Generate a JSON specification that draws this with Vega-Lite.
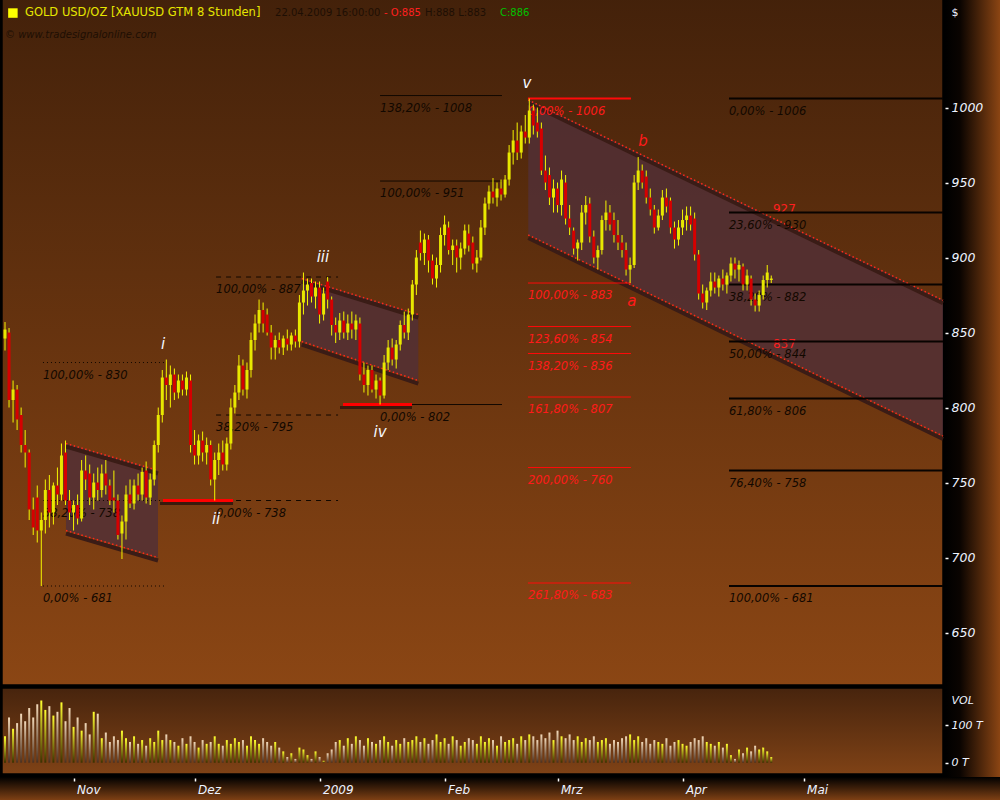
{
"$schema": "https://vega.github.io/schema/vega-lite/v6.json",
"width": 1000, "height": 800,
"autosize": {"type": "none"},
"padding": 0,
"background": "#6a3410",
"view": {"stroke": null, "fill": {"gradient": "linear", "x1": 0, "y1": 0, "x2": 1, "y2": 0, "stops": [{"offset": 0, "color": "#000000"}, {"offset": 0.945, "color": "#000000"}, {"offset": 0.96, "color": "#0a0401"}, {"offset": 1, "color": "#8b4513"}]}},
"config": {"view": {"stroke": null}},
"datasets": {
"bars": [
{"d":"2008-10-15","o":846,"h":857,"l":838,"c":852,"v":70},
{"d":"2008-10-16","o":850,"h":853,"l":800,"c":805,"v":120},
{"d":"2008-10-17","o":805,"h":818,"l":790,"c":812,"v":90},
{"d":"2008-10-18","o":812,"h":815,"l":785,"c":792,"v":105},
{"d":"2008-10-19","o":795,"h":800,"l":770,"c":775,"v":130},
{"d":"2008-10-20","o":775,"h":785,"l":760,"c":770,"v":110},
{"d":"2008-10-21","o":770,"h":772,"l":725,"c":732,"v":145},
{"d":"2008-10-22","o":732,"h":740,"l":715,"c":720,"v":120},
{"d":"2008-10-23","o":740,"h":748,"l":710,"c":718,"v":155},
{"d":"2008-10-24","o":718,"h":730,"l":681,"c":725,"v":165},
{"d":"2008-10-25","o":725,"h":752,"l":716,"c":745,"v":140},
{"d":"2008-10-26","o":745,"h":755,"l":720,"c":730,"v":150},
{"d":"2008-10-27","o":730,"h":750,"l":722,"c":748,"v":125},
{"d":"2008-10-28","o":748,"h":760,"l":735,"c":742,"v":135},
{"d":"2008-10-29","o":742,"h":776,"l":738,"c":768,"v":160},
{"d":"2008-10-30","o":770,"h":778,"l":735,"c":738,"v":110},
{"d":"2008-10-31","o":738,"h":745,"l":725,"c":730,"v":145},
{"d":"2008-11-01","o":730,"h":738,"l":718,"c":735,"v":95},
{"d":"2008-11-02","o":735,"h":742,"l":722,"c":726,"v":120},
{"d":"2008-11-03","o":726,"h":765,"l":724,"c":758,"v":85},
{"d":"2008-11-04","o":758,"h":768,"l":745,"c":752,"v":105},
{"d":"2008-11-05","o":756,"h":762,"l":735,"c":740,"v":75},
{"d":"2008-11-06","o":740,"h":756,"l":732,"c":750,"v":135},
{"d":"2008-11-07","o":750,"h":760,"l":738,"c":745,"v":130},
{"d":"2008-11-08","o":745,"h":762,"l":740,"c":756,"v":65},
{"d":"2008-11-09","o":756,"h":765,"l":742,"c":748,"v":80},
{"d":"2008-11-10","o":748,"h":752,"l":735,"c":738,"v":55},
{"d":"2008-11-11","o":740,"h":758,"l":730,"c":738,"v":70},
{"d":"2008-11-12","o":738,"h":742,"l":712,"c":715,"v":60},
{"d":"2008-11-13","o":716,"h":728,"l":699,"c":724,"v":85},
{"d":"2008-11-14","o":724,"h":748,"l":712,"c":742,"v":65},
{"d":"2008-11-15","o":742,"h":752,"l":733,"c":736,"v":55},
{"d":"2008-11-16","o":736,"h":752,"l":732,"c":748,"v":70},
{"d":"2008-11-17","o":748,"h":756,"l":738,"c":742,"v":50},
{"d":"2008-11-18","o":742,"h":760,"l":738,"c":757,"v":60},
{"d":"2008-11-19","o":758,"h":764,"l":736,"c":740,"v":45},
{"d":"2008-11-20","o":740,"h":756,"l":735,"c":752,"v":65},
{"d":"2008-11-21","o":752,"h":778,"l":748,"c":775,"v":55},
{"d":"2008-11-22","o":775,"h":800,"l":770,"c":795,"v":85},
{"d":"2008-11-23","o":795,"h":825,"l":790,"c":820,"v":60},
{"d":"2008-11-24","o":820,"h":832,"l":805,"c":815,"v":75},
{"d":"2008-11-25","o":815,"h":828,"l":800,"c":822,"v":60},
{"d":"2008-11-26","o":822,"h":826,"l":805,"c":810,"v":55},
{"d":"2008-11-27","o":810,"h":822,"l":806,"c":818,"v":45},
{"d":"2008-11-28","o":818,"h":822,"l":808,"c":812,"v":65},
{"d":"2008-11-29","o":812,"h":824,"l":808,"c":820,"v":50},
{"d":"2008-11-30","o":818,"h":822,"l":770,"c":775,"v":70},
{"d":"2008-12-01","o":775,"h":785,"l":762,"c":768,"v":55},
{"d":"2008-12-02","o":768,"h":782,"l":762,"c":778,"v":40},
{"d":"2008-12-03","o":778,"h":784,"l":764,"c":770,"v":60},
{"d":"2008-12-04","o":770,"h":780,"l":762,"c":775,"v":50},
{"d":"2008-12-05","o":775,"h":778,"l":748,"c":752,"v":55},
{"d":"2008-12-06","o":752,"h":770,"l":738,"c":765,"v":70},
{"d":"2008-12-07","o":765,"h":776,"l":755,"c":770,"v":50},
{"d":"2008-12-08","o":770,"h":778,"l":758,"c":762,"v":45},
{"d":"2008-12-09","o":762,"h":780,"l":758,"c":776,"v":60},
{"d":"2008-12-10","o":776,"h":806,"l":772,"c":800,"v":50},
{"d":"2008-12-11","o":800,"h":815,"l":796,"c":810,"v":65},
{"d":"2008-12-12","o":810,"h":835,"l":805,"c":828,"v":55},
{"d":"2008-12-13","o":828,"h":832,"l":808,"c":812,"v":60},
{"d":"2008-12-14","o":812,"h":830,"l":806,"c":825,"v":45},
{"d":"2008-12-15","o":825,"h":850,"l":820,"c":845,"v":70},
{"d":"2008-12-16","o":845,"h":862,"l":838,"c":856,"v":60},
{"d":"2008-12-17","o":856,"h":872,"l":850,"c":865,"v":50},
{"d":"2008-12-18","o":865,"h":870,"l":850,"c":856,"v":65},
{"d":"2008-12-19","o":862,"h":866,"l":848,"c":850,"v":55},
{"d":"2008-12-20","o":850,"h":855,"l":832,"c":840,"v":45},
{"d":"2008-12-21","o":840,"h":848,"l":832,"c":845,"v":55},
{"d":"2008-12-22","o":845,"h":850,"l":836,"c":840,"v":40},
{"d":"2008-12-23","o":840,"h":848,"l":835,"c":846,"v":30},
{"d":"2008-12-24","o":846,"h":852,"l":838,"c":842,"v":15},
{"d":"2008-12-25","o":842,"h":850,"l":838,"c":848,"v":25},
{"d":"2008-12-26","o":848,"h":852,"l":840,"c":844,"v":10},
{"d":"2008-12-27","o":844,"h":875,"l":840,"c":870,"v":40},
{"d":"2008-12-28","o":870,"h":890,"l":862,"c":878,"v":35},
{"d":"2008-12-29","o":878,"h":886,"l":868,"c":882,"v":20},
{"d":"2008-12-30","o":883,"h":886,"l":870,"c":874,"v":10},
{"d":"2008-12-31","o":874,"h":884,"l":866,"c":880,"v":30},
{"d":"2009-01-01","o":880,"h":884,"l":856,"c":862,"v":15},
{"d":"2009-01-02","o":862,"h":880,"l":858,"c":876,"v":5},
{"d":"2009-01-03","o":884,"h":887,"l":866,"c":872,"v":25},
{"d":"2009-01-04","o":872,"h":874,"l":848,"c":855,"v":35},
{"d":"2009-01-05","o":855,"h":860,"l":843,"c":850,"v":55},
{"d":"2009-01-06","o":850,"h":863,"l":845,"c":858,"v":60},
{"d":"2009-01-07","o":858,"h":864,"l":846,"c":850,"v":45},
{"d":"2009-01-08","o":850,"h":862,"l":845,"c":856,"v":65},
{"d":"2009-01-09","o":856,"h":864,"l":846,"c":852,"v":50},
{"d":"2009-01-10","o":852,"h":862,"l":845,"c":858,"v":70},
{"d":"2009-01-11","o":856,"h":860,"l":818,"c":822,"v":60},
{"d":"2009-01-12","o":822,"h":830,"l":810,"c":815,"v":45},
{"d":"2009-01-13","o":815,"h":828,"l":808,"c":825,"v":65},
{"d":"2009-01-14","o":825,"h":828,"l":810,"c":812,"v":55},
{"d":"2009-01-15","o":812,"h":822,"l":806,"c":818,"v":50},
{"d":"2009-01-16","o":818,"h":820,"l":802,"c":808,"v":60},
{"d":"2009-01-17","o":808,"h":835,"l":806,"c":830,"v":70},
{"d":"2009-01-18","o":830,"h":845,"l":825,"c":840,"v":55},
{"d":"2009-01-19","o":840,"h":846,"l":828,"c":832,"v":45},
{"d":"2009-01-20","o":832,"h":845,"l":826,"c":842,"v":60},
{"d":"2009-01-21","o":842,"h":858,"l":838,"c":855,"v":50},
{"d":"2009-01-22","o":855,"h":864,"l":846,"c":850,"v":65},
{"d":"2009-01-23","o":850,"h":866,"l":845,"c":862,"v":55},
{"d":"2009-01-24","o":862,"h":885,"l":858,"c":882,"v":60},
{"d":"2009-01-25","o":882,"h":905,"l":875,"c":900,"v":70},
{"d":"2009-01-26","o":910,"h":918,"l":898,"c":903,"v":55},
{"d":"2009-01-27","o":903,"h":916,"l":895,"c":912,"v":65},
{"d":"2009-01-28","o":912,"h":915,"l":890,"c":898,"v":50},
{"d":"2009-01-29","o":898,"h":902,"l":882,"c":886,"v":60},
{"d":"2009-01-30","o":886,"h":900,"l":880,"c":895,"v":75},
{"d":"2009-01-31","o":895,"h":920,"l":890,"c":915,"v":55},
{"d":"2009-02-01","o":915,"h":928,"l":908,"c":922,"v":65},
{"d":"2009-02-02","o":920,"h":924,"l":902,"c":905,"v":50},
{"d":"2009-02-03","o":905,"h":912,"l":895,"c":908,"v":70},
{"d":"2009-02-04","o":908,"h":912,"l":890,"c":900,"v":60},
{"d":"2009-02-05","o":900,"h":910,"l":892,"c":906,"v":45},
{"d":"2009-02-06","o":906,"h":922,"l":902,"c":918,"v":55},
{"d":"2009-02-07","o":916,"h":922,"l":904,"c":908,"v":65},
{"d":"2009-02-08","o":910,"h":914,"l":892,"c":896,"v":60},
{"d":"2009-02-09","o":896,"h":905,"l":890,"c":900,"v":50},
{"d":"2009-02-10","o":900,"h":925,"l":898,"c":920,"v":70},
{"d":"2009-02-11","o":920,"h":940,"l":915,"c":936,"v":55},
{"d":"2009-02-12","o":936,"h":948,"l":932,"c":944,"v":65},
{"d":"2009-02-13","o":944,"h":953,"l":936,"c":940,"v":60},
{"d":"2009-02-14","o":940,"h":950,"l":934,"c":946,"v":45},
{"d":"2009-02-15","o":946,"h":952,"l":938,"c":942,"v":70},
{"d":"2009-02-16","o":942,"h":955,"l":940,"c":952,"v":55},
{"d":"2009-02-17","o":952,"h":975,"l":948,"c":970,"v":60},
{"d":"2009-02-18","o":970,"h":985,"l":962,"c":978,"v":65},
{"d":"2009-02-19","o":978,"h":990,"l":965,"c":970,"v":50},
{"d":"2009-02-20","o":970,"h":988,"l":966,"c":984,"v":70},
{"d":"2009-02-21","o":984,"h":995,"l":976,"c":980,"v":60},
{"d":"2009-02-22","o":980,"h":1006,"l":976,"c":998,"v":75},
{"d":"2009-02-23","o":998,"h":1002,"l":982,"c":988,"v":70},
{"d":"2009-02-24","o":990,"h":1000,"l":980,"c":984,"v":60},
{"d":"2009-02-25","o":986,"h":990,"l":955,"c":958,"v":75},
{"d":"2009-02-26","o":958,"h":968,"l":945,"c":950,"v":65},
{"d":"2009-02-27","o":955,"h":960,"l":935,"c":940,"v":80},
{"d":"2009-02-28","o":940,"h":952,"l":930,"c":946,"v":60},
{"d":"2009-03-01","o":946,"h":950,"l":930,"c":935,"v":85},
{"d":"2009-03-02","o":935,"h":958,"l":928,"c":952,"v":70},
{"d":"2009-03-03","o":950,"h":955,"l":922,"c":926,"v":65},
{"d":"2009-03-04","o":926,"h":935,"l":915,"c":920,"v":75},
{"d":"2009-03-05","o":918,"h":920,"l":902,"c":906,"v":60},
{"d":"2009-03-06","o":906,"h":912,"l":898,"c":910,"v":70},
{"d":"2009-03-07","o":910,"h":935,"l":905,"c":930,"v":55},
{"d":"2009-03-08","o":930,"h":941,"l":922,"c":935,"v":65},
{"d":"2009-03-09","o":936,"h":940,"l":910,"c":914,"v":60},
{"d":"2009-03-10","o":914,"h":918,"l":896,"c":900,"v":70},
{"d":"2009-03-11","o":900,"h":908,"l":892,"c":905,"v":55},
{"d":"2009-03-12","o":905,"h":928,"l":902,"c":925,"v":60},
{"d":"2009-03-13","o":925,"h":938,"l":918,"c":930,"v":65},
{"d":"2009-03-14","o":930,"h":935,"l":918,"c":922,"v":50},
{"d":"2009-03-15","o":925,"h":930,"l":910,"c":915,"v":60},
{"d":"2009-03-16","o":915,"h":925,"l":905,"c":910,"v":55},
{"d":"2009-03-17","o":910,"h":915,"l":900,"c":905,"v":65},
{"d":"2009-03-18","o":905,"h":910,"l":888,"c":892,"v":70},
{"d":"2009-03-19","o":892,"h":900,"l":883,"c":895,"v":75},
{"d":"2009-03-20","o":895,"h":955,"l":893,"c":950,"v":60},
{"d":"2009-03-21","o":950,"h":967,"l":945,"c":958,"v":70},
{"d":"2009-03-22","o":958,"h":962,"l":946,"c":950,"v":55},
{"d":"2009-03-23","o":954,"h":958,"l":936,"c":940,"v":65},
{"d":"2009-03-24","o":940,"h":946,"l":928,"c":932,"v":50},
{"d":"2009-03-25","o":932,"h":935,"l":916,"c":920,"v":60},
{"d":"2009-03-26","o":920,"h":932,"l":918,"c":928,"v":55},
{"d":"2009-03-27","o":928,"h":945,"l":925,"c":940,"v":50},
{"d":"2009-03-28","o":940,"h":946,"l":930,"c":934,"v":65},
{"d":"2009-03-29","o":938,"h":940,"l":916,"c":920,"v":45},
{"d":"2009-03-30","o":920,"h":924,"l":906,"c":912,"v":55},
{"d":"2009-03-31","o":912,"h":925,"l":908,"c":920,"v":60},
{"d":"2009-04-01","o":920,"h":932,"l":915,"c":925,"v":50},
{"d":"2009-04-02","o":925,"h":934,"l":918,"c":928,"v":45},
{"d":"2009-04-03","o":928,"h":934,"l":918,"c":922,"v":55},
{"d":"2009-04-04","o":926,"h":930,"l":898,"c":902,"v":65},
{"d":"2009-04-05","o":902,"h":905,"l":872,"c":876,"v":60},
{"d":"2009-04-06","o":876,"h":882,"l":866,"c":870,"v":70},
{"d":"2009-04-07","o":870,"h":880,"l":865,"c":878,"v":55},
{"d":"2009-04-08","o":878,"h":890,"l":874,"c":884,"v":50},
{"d":"2009-04-09","o":884,"h":890,"l":876,"c":880,"v":45},
{"d":"2009-04-10","o":880,"h":888,"l":874,"c":886,"v":55},
{"d":"2009-04-11","o":886,"h":892,"l":878,"c":882,"v":40},
{"d":"2009-04-12","o":882,"h":890,"l":876,"c":888,"v":50},
{"d":"2009-04-13","o":888,"h":900,"l":884,"c":896,"v":20},
{"d":"2009-04-14","o":896,"h":900,"l":886,"c":892,"v":10},
{"d":"2009-04-15","o":892,"h":898,"l":884,"c":895,"v":35},
{"d":"2009-04-16","o":894,"h":896,"l":878,"c":882,"v":25},
{"d":"2009-04-17","o":882,"h":892,"l":878,"c":888,"v":40},
{"d":"2009-04-18","o":886,"h":888,"l":868,"c":872,"v":30},
{"d":"2009-04-19","o":872,"h":876,"l":864,"c":868,"v":45},
{"d":"2009-04-20","o":868,"h":878,"l":864,"c":875,"v":35},
{"d":"2009-04-21","o":875,"h":888,"l":872,"c":885,"v":40},
{"d":"2009-04-22","o":885,"h":895,"l":880,"c":890,"v":30},
{"d":"2009-04-23","o":885,"h":888,"l":883,"c":886,"v":15}
],
"fibs": [
{"set":"A","label":"100,00% - 830","price":830,"start":"2008-10-24T10:00:00Z","end":"2008-11-23T16:00:00Z"},
{"set":"A","label":"38,20% - 738","price":738,"start":"2008-10-24T10:00:00Z","end":"2008-11-23T16:00:00Z"},
{"set":"A","label":"0,00% - 681","price":681,"start":"2008-10-24T10:00:00Z","end":"2008-11-23T16:00:00Z"},
{"set":"B","label":"100,00% - 887","price":887,"start":"2008-12-06T08:00:00Z","end":"2009-01-05T14:00:00Z"},
{"set":"B","label":"38,20% - 795","price":795,"start":"2008-12-06T08:00:00Z","end":"2009-01-05T14:00:00Z"},
{"set":"B","label":"0,00% - 738","price":738,"start":"2008-12-06T08:00:00Z","end":"2009-01-05T14:00:00Z"},
{"set":"C","label":"138,20% - 1008","price":1008,"start":"2009-01-16T00:00:00Z","end":"2009-02-15T05:30:00Z"},
{"set":"C","label":"100,00% - 951","price":951,"start":"2009-01-16T00:00:00Z","end":"2009-02-15T05:30:00Z"},
{"set":"C","label":"0,00% - 802","price":802,"start":"2009-01-16T00:00:00Z","end":"2009-02-15T05:30:00Z"},
{"set":"D","label":"0,00% - 1006","price":1006,"start":"2009-02-21T16:00:00Z","end":"2009-03-19T05:00:00Z"},
{"set":"D","label":"100,00% - 883","price":883,"start":"2009-02-21T16:00:00Z","end":"2009-03-19T05:00:00Z"},
{"set":"D","label":"123,60% - 854","price":854,"start":"2009-02-21T16:00:00Z","end":"2009-03-19T05:00:00Z"},
{"set":"D","label":"138,20% - 836","price":836,"start":"2009-02-21T16:00:00Z","end":"2009-03-19T05:00:00Z"},
{"set":"D","label":"161,80% - 807","price":807,"start":"2009-02-21T16:00:00Z","end":"2009-03-19T05:00:00Z"},
{"set":"D","label":"200,00% - 760","price":760,"start":"2009-02-21T16:00:00Z","end":"2009-03-19T05:00:00Z"},
{"set":"D","label":"261,80% - 683","price":683,"start":"2009-02-21T16:00:00Z","end":"2009-03-19T05:00:00Z"},
{"set":"E","label":"0,00% - 1006","price":1006,"start":"2009-04-12T12:30:00Z","end":"2009-06-04T14:00:00Z"},
{"set":"E","label":"23,60% - 930","price":930,"start":"2009-04-12T12:30:00Z","end":"2009-06-04T14:00:00Z"},
{"set":"E","label":"38,20% - 882","price":882,"start":"2009-04-12T12:30:00Z","end":"2009-06-04T14:00:00Z"},
{"set":"E","label":"50,00% - 844","price":844,"start":"2009-04-12T12:30:00Z","end":"2009-06-04T14:00:00Z"},
{"set":"E","label":"61,80% - 806","price":806,"start":"2009-04-12T12:30:00Z","end":"2009-06-04T14:00:00Z"},
{"set":"E","label":"76,40% - 758","price":758,"start":"2009-04-12T12:30:00Z","end":"2009-06-04T14:00:00Z"},
{"set":"E","label":"100,00% - 681","price":681,"start":"2009-04-12T12:30:00Z","end":"2009-06-04T14:00:00Z"}
],
"channels": [
{"ch":"c1","date":"2008-10-30T03:00:00Z","top":776,"bottom":718},
{"ch":"c1","date":"2008-11-21T22:30:00Z","top":758,"bottom":700},
{"ch":"c2","date":"2008-12-27T13:40:00Z","top":886,"bottom":844},
{"ch":"c2","date":"2009-01-25T11:30:00Z","top":862,"bottom":818},
{"ch":"c3","date":"2009-02-21T18:00:00Z","top":1005,"bottom":915},
{"ch":"c3","date":"2009-06-04T14:00:00Z","top":871.5,"bottom":781}
],
"channelValues": [
{"date":"2009-04-23T10:00:00Z","value":927},
{"date":"2009-04-23T10:00:00Z","value":837}
],
"supports": [
{"start":"2008-11-23T04:00:00Z","end":"2008-12-10T13:00:00Z","price":738},
{"start":"2009-01-06T19:30:00Z","end":"2009-01-23T22:00:00Z","price":802}
],
"waves": [
{"wave":"i","turn":"peak","date":"2008-11-23T04:00:00Z","price":832},
{"wave":"ii","turn":"trough","date":"2008-12-06T08:00:00Z","price":738},
{"wave":"iii","turn":"peak","date":"2009-01-01T20:00:00Z","price":890},
{"wave":"iv","turn":"trough","date":"2009-01-15T23:30:00Z","price":796},
{"wave":"v","turn":"peak","date":"2009-02-21T10:00:00Z","price":1006},
{"wave":"a","turn":"trough","date":"2009-03-19T11:00:00Z","price":883},
{"wave":"b","turn":"peak","date":"2009-03-22T05:00:00Z","price":967}
]
},
"layer": [
{
"layer": [
{"data": {"values": [{}]},
 "mark": {"type": "rect", "fill": {"gradient": "linear", "x1": 0, "y1": 0, "x2": 0, "y2": 1, "stops": [{"offset": 0, "color": "#000000"}, {"offset": 1, "color": "#7e4014"}]}},
 "encoding": {
  "x": {"datum": {"year": 2008, "month": 10, "date": 10, "utc": true}, "type": "temporal",
        "scale": {"type": "utc", "domain": [{"year": 2008, "month": 10, "date": 15, "utc": true}, {"year": 2009, "month": 6, "date": 4, "hours": 14, "utc": true}], "range": [5, 943], "nice": false, "padding": 0},
        "axis": {"orient": "bottom", "offset": -22, "zindex": 2, "domain": false, "grid": false, "title": null, "titleOpacity": 0,
                 "values": [{"year": 2008, "month": 11, "date": 1, "utc": true}, {"year": 2008, "month": 12, "date": 1, "utc": true}, {"year": 2009, "month": 1, "date": 1, "utc": true}, {"year": 2009, "month": 2, "date": 1, "utc": true}, {"year": 2009, "month": 3, "date": 1, "utc": true}, {"year": 2009, "month": 4, "date": 1, "utc": true}, {"year": 2009, "month": 5, "date": 1, "utc": true}],
                 "labelExpr": "utcmonth(datum.value) == 0 ? '' + utcyear(datum.value) : ['Jan','Feb','Mrz','Apr','Mai','Jun','Jul','Aug','Sep','Okt','Nov','Dez'][utcmonth(datum.value)]",
                 "tickSize": 3, "tickColor": "#ffffff", "tickWidth": 1.5, "labelColor": "#eef3ff", "labelFont": "DejaVu Sans", "labelFontSize": 12, "labelFontStyle": "italic", "labelAlign": "left", "labelOffset": 3, "labelPadding": 3, "labelFlush": false, "labelOverlap": false}},
  "x2": {"datum": {"year": 2009, "month": 6, "date": 18, "hours": 17, "minutes": 15, "utc": true}},
  "y": {"datum": 553.7, "type": "quantitative", "scale": {"domain": [615, 1071.7], "range": [685, 0], "nice": false, "zero": false, "padding": 0},
        "axis": {"orient": "right", "offset": -55, "zindex": 2, "values": [650, 700, 750, 800, 850, 900, 950, 1000], "format": "d", "domain": false, "grid": false,
                 "tickSize": 3, "tickColor": "#ffffff", "tickWidth": 1.5, "labelColor": "#eef3ff", "labelFont": "DejaVu Sans", "labelFontSize": 12.5, "labelFontStyle": "italic", "labelPadding": 3, "labelFlush": false, "labelOverlap": false,
                 "title": "$", "titleAngle": 0, "titleX": 6, "titleY": 12, "titleColor": "#eef3ff", "titleFont": "DejaVu Sans", "titleFontSize": 11, "titleFontWeight": "normal", "titleAlign": "left", "titleBaseline": "middle"}},
  "y2": {"datum": 538.3}
 }},
{"data": {"values": [{}]},
 "mark": {"type": "rect", "stroke": "#000000", "strokeWidth": 1.5, "fill": {"gradient": "linear", "x1": 0, "y1": 0, "x2": 0, "y2": 1, "stops": [{"offset": 0, "color": "#43210a"}, {"offset": 1, "color": "#8b4614"}]}},
 "encoding": {
  "x": {"datum": {"year": 2008, "month": 10, "date": 14, "hours": 6, "utc": true}, "type": "temporal"},
  "x2": {"datum": {"year": 2009, "month": 6, "date": 4, "hours": 14, "utc": true}},
  "y": {"datum": 1075, "type": "quantitative"},
  "y2": {"datum": 615}
 }},
{"data": {"name": "channels"},
 "mark": {"type": "area", "color": "#523037", "opacity": 0.82},
 "encoding": {
  "x": {"field": "date", "type": "temporal"},
  "y": {"field": "top", "type": "quantitative"},
  "y2": {"field": "bottom"},
  "detail": {"field": "ch"}
 }},
{"data": {"name": "channels"},
 "mark": {"type": "line", "color": "#3a1c16", "strokeWidth": 4, "yOffset": 3},
 "encoding": {"x": {"field": "date", "type": "temporal"}, "y": {"field": "top", "type": "quantitative"}, "detail": {"field": "ch"}}},
{"data": {"name": "channels"},
 "mark": {"type": "line", "color": "#3a1c16", "strokeWidth": 4, "yOffset": 3},
 "encoding": {"x": {"field": "date", "type": "temporal"}, "y": {"field": "bottom", "type": "quantitative"}, "detail": {"field": "ch"}}},
{"data": {"name": "channels"},
 "mark": {"type": "line", "color": "#ff2a1a", "strokeWidth": 1.5, "strokeDash": [1.5, 2.5]},
 "encoding": {"x": {"field": "date", "type": "temporal"}, "y": {"field": "top", "type": "quantitative"}, "detail": {"field": "ch"}}},
{"data": {"name": "channels"},
 "mark": {"type": "line", "color": "#ff2a1a", "strokeWidth": 1.5, "strokeDash": [1.5, 2.5]},
 "encoding": {"x": {"field": "date", "type": "temporal"}, "y": {"field": "bottom", "type": "quantitative"}, "detail": {"field": "ch"}}},
{"data": {"name": "channelValues"},
 "mark": {"type": "text", "color": "#ff2020", "align": "left", "baseline": "bottom", "dy": -1, "font": "DejaVu Sans", "fontSize": 12},
 "encoding": {"x": {"field": "date", "type": "temporal"}, "y": {"field": "value", "type": "quantitative"}, "text": {"field": "value", "type": "quantitative"}}},
{"data": {"name": "fibs"}, "transform": [{"filter": "datum.set === 'A'"}],
 "mark": {"type": "rule", "color": "#120800", "strokeWidth": 1, "strokeDash": [1, 3]},
 "encoding": {"x": {"field": "start", "type": "temporal"}, "x2": {"field": "end"}, "y": {"field": "price", "type": "quantitative"}}},
{"data": {"name": "fibs"}, "transform": [{"filter": "datum.set === 'B'"}],
 "mark": {"type": "rule", "color": "#120800", "strokeWidth": 1, "strokeDash": [5, 5]},
 "encoding": {"x": {"field": "start", "type": "temporal"}, "x2": {"field": "end"}, "y": {"field": "price", "type": "quantitative"}}},
{"data": {"name": "fibs"}, "transform": [{"filter": "datum.set === 'C'"}],
 "mark": {"type": "rule", "color": "#120800", "strokeWidth": 1},
 "encoding": {"x": {"field": "start", "type": "temporal"}, "x2": {"field": "end"}, "y": {"field": "price", "type": "quantitative"}}},
{"data": {"name": "fibs"}, "transform": [{"filter": "datum.set === 'D' && datum.price < 1000"}],
 "mark": {"type": "rule", "color": "#ff0a0a", "strokeWidth": 1},
 "encoding": {"x": {"field": "start", "type": "temporal"}, "x2": {"field": "end"}, "y": {"field": "price", "type": "quantitative"}}},
{"data": {"name": "fibs"}, "transform": [{"filter": "datum.set === 'D' && datum.price >= 1000"}],
 "mark": {"type": "rule", "color": "#ff0a0a", "strokeWidth": 2},
 "encoding": {"x": {"field": "start", "type": "temporal"}, "x2": {"field": "end"}, "y": {"field": "price", "type": "quantitative"}}},
{"data": {"name": "fibs"}, "transform": [{"filter": "datum.set === 'E'"}],
 "mark": {"type": "rule", "color": "#080300", "strokeWidth": 2},
 "encoding": {"x": {"field": "start", "type": "temporal"}, "x2": {"field": "end"}, "y": {"field": "price", "type": "quantitative"}}},
{"data": {"name": "supports"},
 "mark": {"type": "rule", "color": "#3a1a0c", "strokeWidth": 3, "xOffset": -3, "yOffset": 3},
 "encoding": {"x": {"field": "start", "type": "temporal"}, "x2": {"field": "end"}, "y": {"field": "price", "type": "quantitative"}}},
{"data": {"name": "supports"},
 "mark": {"type": "rule", "color": "#ff0000", "strokeWidth": 3},
 "encoding": {"x": {"field": "start", "type": "temporal"}, "x2": {"field": "end"}, "y": {"field": "price", "type": "quantitative"}}},
{"data": {"name": "fibs"}, "transform": [{"filter": "datum.set !== 'D'"}],
 "mark": {"type": "text", "color": "#120800", "align": "left", "baseline": "middle", "dy": 13, "font": "DejaVu Sans", "fontStyle": "italic", "fontSize": 11.5},
 "encoding": {"x": {"field": "start", "type": "temporal"}, "y": {"field": "price", "type": "quantitative"}, "text": {"field": "label"}}},
{"data": {"name": "fibs"}, "transform": [{"filter": "datum.set === 'D'"}],
 "mark": {"type": "text", "color": "#ff1a1a", "align": "left", "baseline": "middle", "dy": 13, "font": "DejaVu Sans", "fontStyle": "italic", "fontSize": 11.5},
 "encoding": {"x": {"field": "start", "type": "temporal"}, "y": {"field": "price", "type": "quantitative"}, "text": {"field": "label"}}},
{"data": {"name": "bars"},
 "mark": {"type": "rule", "color": "#f5f500", "strokeWidth": 1},
 "encoding": {
  "x": {"field": "d", "type": "temporal"},
  "y": {"field": "h", "type": "quantitative"},
  "y2": {"field": "l"}
 }},
{"data": {"name": "bars"},
 "mark": {"type": "bar", "width": 3},
 "encoding": {
  "x": {"field": "d", "type": "temporal"},
  "y": {"field": "o", "type": "quantitative"},
  "y2": {"field": "c"},
  "color": {"condition": {"test": "datum.c >= datum.o", "value": "#e8e800"}, "value": "#d60000"}
 }},
{"data": {"name": "waves"}, "transform": [{"filter": "datum.turn === 'peak'"}],
 "mark": {"type": "text", "align": "center", "baseline": "middle", "dy": -16, "font": "DejaVu Sans", "fontStyle": "italic", "fontSize": 15},
 "encoding": {
  "x": {"field": "date", "type": "temporal"},
  "y": {"field": "price", "type": "quantitative"},
  "text": {"field": "wave"},
  "color": {"condition": {"test": "datum.wave === 'a' || datum.wave === 'b'", "value": "#ff1a1a"}, "value": "#f4f8ff"}
 }},
{"data": {"name": "waves"}, "transform": [{"filter": "datum.turn === 'trough'"}],
 "mark": {"type": "text", "align": "center", "baseline": "middle", "dy": 18, "font": "DejaVu Sans", "fontStyle": "italic", "fontSize": 15},
 "encoding": {
  "x": {"field": "date", "type": "temporal"},
  "y": {"field": "price", "type": "quantitative"},
  "text": {"field": "wave"},
  "color": {"condition": {"test": "datum.wave === 'a' || datum.wave === 'b'", "value": "#ff1a1a"}, "value": "#f4f8ff"}
 }},
{"data": {"values": [{}]},
 "mark": {"type": "point", "shape": "square", "filled": true, "color": "#ffff00", "size": 90, "opacity": 1},
 "encoding": {"x": {"datum": {"year": 2008, "month": 10, "date": 16, "hours": 23, "utc": true}, "type": "temporal"}, "y": {"datum": 1063, "type": "quantitative"}}},
{"data": {"values": [{}]},
 "mark": {"type": "text", "text": "GOLD USD/OZ [XAUUSD GTM  8 Stunden]", "color": "#e6e600", "align": "left", "baseline": "middle", "font": "DejaVu Sans", "fontSize": 11.5},
 "encoding": {"x": {"datum": {"year": 2008, "month": 10, "date": 19, "hours": 23, "utc": true}, "type": "temporal"}, "y": {"datum": 1063, "type": "quantitative"}}},
{"data": {"values": [{}]},
 "mark": {"type": "text", "text": "22.04.2009 16:00:00", "color": "#1e0f04", "align": "left", "baseline": "middle", "font": "DejaVu Sans", "fontSize": 10},
 "encoding": {"x": {"datum": {"year": 2008, "month": 12, "date": 20, "hours": 23, "utc": true}, "type": "temporal"}, "y": {"datum": 1063, "type": "quantitative"}}},
{"data": {"values": [{}]},
 "mark": {"type": "text", "text": "- O:885", "color": "#ff2020", "align": "left", "baseline": "middle", "font": "DejaVu Sans", "fontSize": 10},
 "encoding": {"x": {"datum": {"year": 2009, "month": 1, "date": 16, "hours": 23, "minutes": 30, "utc": true}, "type": "temporal"}, "y": {"datum": 1063, "type": "quantitative"}}},
{"data": {"values": [{}]},
 "mark": {"type": "text", "text": "H:888 L:883", "color": "#1e0f04", "align": "left", "baseline": "middle", "font": "DejaVu Sans", "fontSize": 10},
 "encoding": {"x": {"datum": {"year": 2009, "month": 1, "date": 27, "hours": 3, "minutes": 20, "utc": true}, "type": "temporal"}, "y": {"datum": 1063, "type": "quantitative"}}},
{"data": {"values": [{}]},
 "mark": {"type": "text", "text": "C:886", "color": "#00c000", "align": "left", "baseline": "middle", "font": "DejaVu Sans", "fontSize": 10},
 "encoding": {"x": {"datum": {"year": 2009, "month": 2, "date": 14, "hours": 17, "minutes": 45, "utc": true}, "type": "temporal"}, "y": {"datum": 1063, "type": "quantitative"}}},
{"data": {"values": [{}]},
 "mark": {"type": "text", "text": "© www.tradesignalonline.com", "color": "#1e0f04", "align": "left", "baseline": "middle", "font": "DejaVu Sans", "fontStyle": "italic", "fontSize": 10},
 "encoding": {"x": {"datum": {"year": 2008, "month": 10, "date": 15, "utc": true}, "type": "temporal"}, "y": {"datum": 1048.3, "type": "quantitative"}}}
]
},
{
"layer": [
{"data": {"values": [{}]},
 "mark": {"type": "rect", "stroke": "#000000", "strokeWidth": 1.5, "fill": {"gradient": "linear", "x1": 0, "y1": 0, "x2": 0, "y2": 1, "stops": [{"offset": 0, "color": "#47240d"}, {"offset": 1, "color": "#7f4216"}]}},
 "encoding": {
  "x": {"datum": {"year": 2008, "month": 10, "date": 14, "hours": 6, "utc": true}, "type": "temporal"},
  "x2": {"datum": {"year": 2009, "month": 6, "date": 4, "hours": 14, "utc": true}},
  "y": {"datum": 198, "type": "quantitative", "scale": {"domain": [0, 100], "range": [762.7, 725], "nice": false, "zero": false},
        "axis": {"orient": "right", "offset": -55, "zindex": 2, "values": [0, 100], "labelExpr": "datum.value + ' T'", "domain": false, "grid": false,
                 "tickSize": 3, "tickColor": "#ffffff", "tickWidth": 1.5, "labelColor": "#eef3ff", "labelFont": "DejaVu Sans", "labelFontSize": 11, "labelFontStyle": "italic", "labelPadding": 3, "labelFlush": false, "labelOverlap": false,
                 "title": "VOL", "titleAngle": 0, "titleX": 6, "titleY": 700, "titleColor": "#eef3ff", "titleFont": "DejaVu Sans", "titleFontSize": 11, "titleFontWeight": "normal", "titleFontStyle": "italic", "titleAlign": "left", "titleBaseline": "middle"}},
  "y2": {"datum": -30}
 }},
{"data": {"name": "bars"}, "transform": [{"filter": "datum.c >= datum.o"}],
 "mark": {"type": "bar", "width": 2, "color": {"gradient": "linear", "x1": 0, "y1": 0, "x2": 0, "y2": 1, "stops": [{"offset": 0, "color": "#ffff30"}, {"offset": 1, "color": "#3a3000"}]}},
 "encoding": {
  "x": {"field": "d", "type": "temporal"},
  "y": {"field": "v", "type": "quantitative"}
 }},
{"data": {"name": "bars"}, "transform": [{"filter": "datum.c < datum.o"}],
 "mark": {"type": "bar", "width": 2, "color": {"gradient": "linear", "x1": 0, "y1": 0, "x2": 0, "y2": 1, "stops": [{"offset": 0, "color": "#f2d8b8"}, {"offset": 1, "color": "#4a3020"}]}},
 "encoding": {
  "x": {"field": "d", "type": "temporal"},
  "y": {"field": "v", "type": "quantitative"}
 }}
]
}
],
"resolve": {"scale": {"y": "independent"}, "axis": {"y": "independent"}}
}
